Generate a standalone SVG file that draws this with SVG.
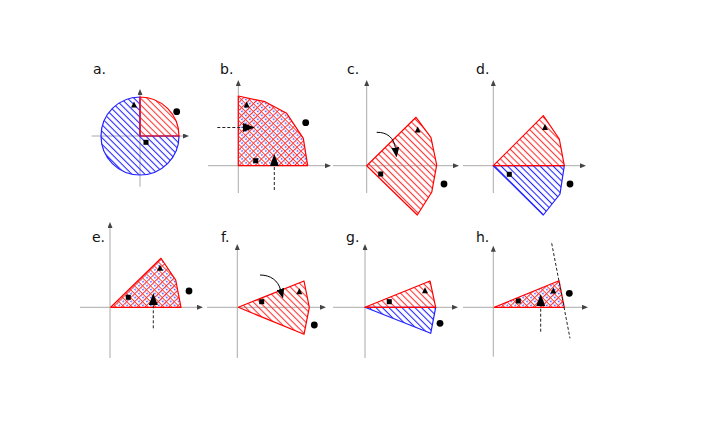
<svg xmlns="http://www.w3.org/2000/svg" width="709" height="446" viewBox="0 0 709 446">
<style>
.ax{stroke:#aaa;stroke-width:1;fill:none;marker-end:url(#axh)}
.lbl{font-family:"DejaVu Sans","Liberation Sans",sans-serif;font-size:14px;fill:#111}
.red{fill:url(#hr);stroke:#f00;stroke-width:1.2;stroke-linejoin:round}
.blue{fill:url(#hb);stroke:#22f;stroke-width:1.2;stroke-linejoin:round}
.cross{fill:url(#hx);stroke:#f00;stroke-width:1.2;stroke-linejoin:round}
.mk{fill:#000}
.dash{stroke:#222;stroke-width:1;stroke-dasharray:3,2;fill:none;marker-end:url(#big)}
.curve{stroke:#000;stroke-width:1;fill:none;marker-end:url(#cur)}
</style>
<defs>
<pattern id="hr" patternUnits="userSpaceOnUse" width="4.6" height="4.6" patternTransform="rotate(-45)"><line x1="2.3" y1="0" x2="2.3" y2="4.6" stroke="#f33" stroke-width="1.1"/></pattern>
<pattern id="hb" patternUnits="userSpaceOnUse" width="4.6" height="4.6" patternTransform="rotate(-45)"><line x1="2.3" y1="0" x2="2.3" y2="4.6" stroke="#22f" stroke-width="1.1"/></pattern>
<pattern id="hx" patternUnits="userSpaceOnUse" width="5.6" height="5.6" patternTransform="rotate(45)"><rect width="5.6" height="5.6" fill="#fff"/><line x1="0" y1="2.8" x2="5.6" y2="2.8" stroke="#33f" stroke-width="1.4" stroke-dasharray="1.4,1.4"/><line x1="0" y1="0" x2="0" y2="5.6" stroke="#f33" stroke-width="1.8"/><line x1="0" y1="0" x2="5.6" y2="0" stroke="#f33" stroke-width="1.8"/></pattern>
<marker id="axh" markerUnits="userSpaceOnUse" markerWidth="6" markerHeight="5" refX="0" refY="2.5" orient="auto"><path d="M0,0 L6,2.5 L0,5 Z" fill="#444"/></marker>
<marker id="big" markerUnits="userSpaceOnUse" markerWidth="12" markerHeight="9" refX="0" refY="4.5" orient="auto"><path d="M0,0 L12,4.5 L0,9 Z" fill="#000"/></marker>
<marker id="cur" markerUnits="userSpaceOnUse" markerWidth="10" markerHeight="8" refX="0" refY="4" orient="auto"><path d="M0,0 L10,4 L0,8 Z" fill="#000"/></marker>
</defs>
<rect width="709" height="446" fill="#fff"/>

<g id="panel-a">
<text class="lbl" x="93" y="74">a.</text>
<line class="ax" x1="91.7" y1="136" x2="183" y2="136"/>
<line class="ax" x1="140" y1="186.7" x2="140" y2="95"/>
<path class="blue" d="M140,136 L140,97 A39,39 0 1,0 179,136 Z"/>
<path class="red" d="M140,136 L140,97 A39,39 0 0,1 179,136 Z"/>
<polygon class="mk" points="134,101.5 131,107.5 137,107.5"/>
<circle class="mk" cx="176.7" cy="111.7" r="3.4"/>
<rect class="mk" x="143.5" y="139.8" width="5" height="5"/>
</g>

<g id="panel-b">
<text class="lbl" x="220" y="74">b.</text>
<line class="ax" x1="208" y1="165.7" x2="325" y2="165.7"/>
<line class="ax" x1="238.3" y1="193" x2="238.3" y2="86"/>
<polygon class="cross" points="238.3,165.7 238.3,96 265,101.7 286.7,113.3 303.3,138.3 307.7,165.7"/>
<polygon class="mk" points="246.7,101.5 243.7,107.5 249.7,107.5"/>
<circle class="mk" cx="305.7" cy="122.7" r="3.4"/>
<rect class="mk" x="253.2" y="158.2" width="5" height="5"/>
</g>

<g id="panel-c">
<text class="lbl" x="347" y="74">c.</text>
<line class="ax" x1="333" y1="165.7" x2="453" y2="165.7"/>
<line class="ax" x1="366.7" y1="193" x2="366.7" y2="86"/>
<polygon class="red" points="366.7,165.7 416,117.3 431,137.7 436.7,165 431.7,192.3 417.3,215"/>
<polygon class="mk" points="417.7,126.5 414.7,132.5 420.7,132.5"/>
<circle class="mk" cx="444" cy="184" r="3.4"/>
<rect class="mk" x="378.2" y="171.5" width="5" height="5"/>
</g>

<g id="panel-d">
<text class="lbl" x="476" y="74">d.</text>
<line class="ax" x1="463" y1="165.7" x2="580" y2="165.7"/>
<line class="ax" x1="493.3" y1="193" x2="493.3" y2="86"/>
<polygon class="blue" points="493.3,165.7 564.3,165.7 560,194 543.3,215"/>
<polygon class="red" points="493.3,165.7 543.3,115.7 559.3,139 564.3,165.7"/>
<polygon class="mk" points="545,124 542,130 548,130"/>
<circle class="mk" cx="570" cy="184" r="3.4"/>
<rect class="mk" x="506.8" y="171.8" width="5" height="5"/>
</g>

<g id="panel-e">
<text class="lbl" x="92" y="242">e.</text>
<line class="ax" x1="80" y1="307.3" x2="197" y2="307.3"/>
<line class="ax" x1="110" y1="358" x2="110" y2="228"/>
<polygon class="cross" points="110.7,307.3 161,258.3 175.7,280 181,307.3"/>
<polygon class="mk" points="160,264.8 157,270.8 163,270.8"/>
<circle class="mk" cx="189" cy="291" r="3.4"/>
<rect class="mk" x="125.8" y="294.8" width="5" height="5"/>
</g>

<g id="panel-f">
<text class="lbl" x="221" y="242">f.</text>
<line class="ax" x1="207" y1="307.3" x2="320" y2="307.3"/>
<line class="ax" x1="237.3" y1="358" x2="237.3" y2="250"/>
<polygon class="red" points="238.3,307.3 304,281 309.3,307.3 304,334.3"/>
<polygon class="mk" points="299.3,288.2 296.3,294.2 302.3,294.2"/>
<circle class="mk" cx="314.3" cy="325" r="3.4"/>
<rect class="mk" x="259.2" y="299.2" width="5" height="5"/>
</g>

<g id="panel-g">
<text class="lbl" x="346" y="242">g.</text>
<line class="ax" x1="333" y1="307.3" x2="452" y2="307.3"/>
<line class="ax" x1="365" y1="358" x2="365" y2="250"/>
<polygon class="blue" points="365,307.3 435.7,307.3 430.7,333.3"/>
<polygon class="red" points="365,307.3 430,281 435.7,307.3"/>
<polygon class="mk" points="425,287.2 422,293.2 428,293.2"/>
<circle class="mk" cx="440" cy="323.3" r="3.4"/>
<rect class="mk" x="386.8" y="299.2" width="5" height="5"/>
</g>

<g id="panel-h">
<text class="lbl" x="476" y="242">h.</text>
<line class="ax" x1="463" y1="307.3" x2="582" y2="307.3"/>
<line class="ax" x1="493.3" y1="356.7" x2="493.3" y2="251.7"/>
<polygon class="cross" points="494.3,307.3 559,280.7 564.3,307.3"/>
<polygon class="mk" points="553.3,287.5 550.3,293.5 556.3,293.5"/>
<circle class="mk" cx="569.3" cy="293.3" r="3.4"/>
<rect class="mk" x="515.8" y="298.5" width="5" height="5"/>
</g>

<g id="connectors">
<line class="dash" x1="217.3" y1="127.5" x2="243" y2="127.5"/>
<line class="dash" x1="274.3" y1="190" x2="274.3" y2="166"/>
<path class="curve" d="M376.7,132.3 C387,132 394,138 395.3,147.5"/>
<line class="dash" x1="153.3" y1="328.3" x2="153.3" y2="305"/>
<path class="curve" d="M260,275 C271,275 278,281 280.3,289"/>
<line class="dash" x1="540.7" y1="331.7" x2="540.7" y2="306"/>
<line x1="551.7" y1="243.3" x2="570" y2="338.3" stroke="#222" stroke-width="1" stroke-dasharray="3,2"/>
</g>
</svg>
